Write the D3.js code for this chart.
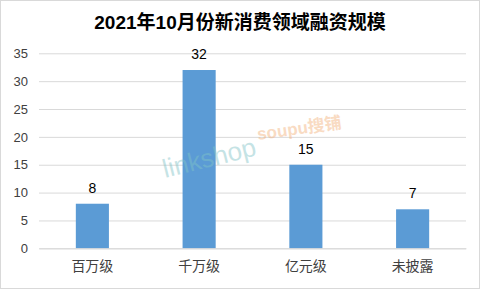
<!DOCTYPE html>
<html><head><meta charset="utf-8">
<script src="https://cdn.jsdelivr.net/npm/d3@7"></script>
<style>
body{margin:0;background:#fff;}
svg{display:block;font-family:"Liberation Sans",Arial,"Noto Sans CJK SC",sans-serif;}
</style></head>
<body>
<script>
const title = "2021年10月份新消费领域融资规模";
const categories = ["百万级","千万级","亿元级","未披露"];
const values = [8,32,15,7];
const yTicks = [0,5,10,15,20,25,30,35];

const W = 483, H = 291;
const svg = d3.select("body").append("svg").attr("width",W).attr("height",H);
svg.append("rect").attr("x",0.5).attr("y",0.5).attr("width",479).attr("height",288)
  .attr("fill","#fff").attr("stroke","#d9d9d9");

const x = d3.scaleBand().domain(categories).range([39,466]).paddingInner(0.69).paddingOuter(0.345);
const y = d3.scaleLinear().domain([0,35]).range([248.3,53.3]);

svg.append("text").attr("x",240).attr("y",29).attr("text-anchor","middle")
  .attr("font-size",19).attr("font-weight","bold").attr("fill","#000")
  .attr("font-family","'Liberation Sans','Noto Sans CJK SC',sans-serif").text(title);

const ya = d3.axisLeft(y).tickValues(yTicks).tickSize(-(466-39)).tickPadding(11);
const gy = svg.append("g").attr("transform","translate(39,0)").call(ya);
gy.select(".domain").remove();
gy.selectAll(".tick line").attr("stroke","#d9d9d9");
gy.selectAll(".tick text").attr("font-size",13).attr("fill","#404040")
  .attr("font-family","'Liberation Sans',Arial,sans-serif");

svg.append("g").selectAll("rect").data(values).join("rect")
  .attr("x",(d,i)=>x(categories[i])).attr("width",x.bandwidth())
  .attr("y",d=>y(d)).attr("height",d=>y(0)-y(d)).attr("fill","#5b9bd5");

svg.append("g").selectAll("text").data(values).join("text")
  .attr("x",(d,i)=>x(categories[i])+x.bandwidth()/2).attr("y",d=>y(d)-11)
  .attr("text-anchor","middle").attr("font-size",14).attr("fill","#000")
  .attr("font-family","'Liberation Sans',Arial,sans-serif").text(d=>d);

const xa = d3.axisBottom(x).tickSize(0).tickPadding(13);
const gx = svg.append("g").attr("transform","translate(0,248.3)").call(xa);
gx.select(".domain").attr("stroke","#d9d9d9");
gx.selectAll(".tick text").attr("font-size",14).attr("fill","#404040")
  .attr("font-family","'Noto Sans CJK SC',sans-serif");

// watermarks (drawn over the bars, semi-transparent)
svg.append("text").attr("transform","translate(165,178) rotate(-14)")
  .attr("font-size",26).attr("fill","#7fc3c6").attr("opacity",0.45)
  .attr("font-family","'Liberation Sans',sans-serif").text("linkshop");
svg.append("text").attr("transform","translate(258,140) rotate(-8)")
  .attr("font-size",17).attr("font-weight","bold").attr("fill","#f2b07a").attr("opacity",0.45)
  .attr("font-family","'Liberation Sans','Noto Sans CJK SC',sans-serif").text("soupu搜铺");
</script>
</body></html>
